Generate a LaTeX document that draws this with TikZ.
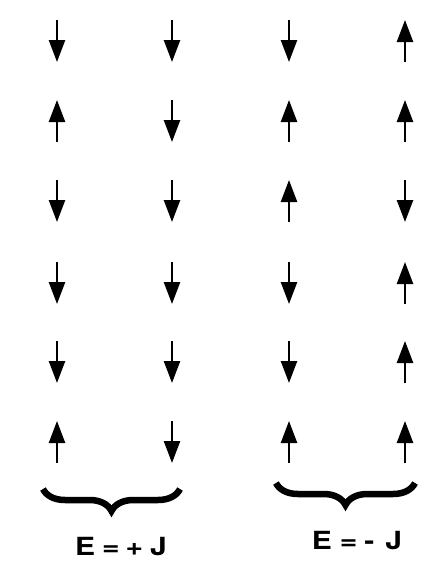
\documentclass[tikz,border=0pt]{standalone}
\usepackage{fontspec}
\newfontfamily\eqfont[FakeStretch=1.2]{TeX Gyre Heros}
\usetikzlibrary{arrows.meta,decorations.pathreplacing}

\begin{document}
\begin{tikzpicture}[x=1pt,y=-1pt,
  spin/.style={line width=2.5pt, -{Triangle[width=16pt,length=22pt]}},
  curlybrace/.style={line width=6.5pt, decorate, decoration={brace,amplitude=22pt}},
  eqtext/.style={font=\eqfont\bfseries\fontsize{25}{29}\selectfont, inner sep=0pt}
]
\useasboundingbox (0,0) rectangle (440,563);
% spin rows: 1 = down, -1 = up
\foreach \y/\a/\b/\c/\d in {41/1/1/1/-1, 121/-1/1/-1/-1, 201/1/1/-1/1,
                            283/1/1/1/-1, 362/1/1/1/-1, 442/-1/1/-1/-1}{
  \foreach \x/\s in {57/\a, 172/\b, 289/\c, 405/\d}
    \draw[spin] (\x,\y-21*\s) -- (\x,\y+21*\s);
}
% braces
\coordinate (lpA) at (43,489);
\coordinate (lpB) at (180,489);
\coordinate (rpA) at (276,483);
\coordinate (rpB) at (415,483);
\draw[curlybrace] (lpB) -- (lpA);
\draw[curlybrace] (rpB) -- (rpA);
\node[eqtext] (plus) at (121,547) {E\hspace{7pt}=\hspace{6pt}+\hspace{7pt}J};
\node[eqtext] (minus) at (357,541) {E\hspace{8pt}=\hspace{7pt}-\hspace{11pt}J};
\end{tikzpicture}
\end{document}
